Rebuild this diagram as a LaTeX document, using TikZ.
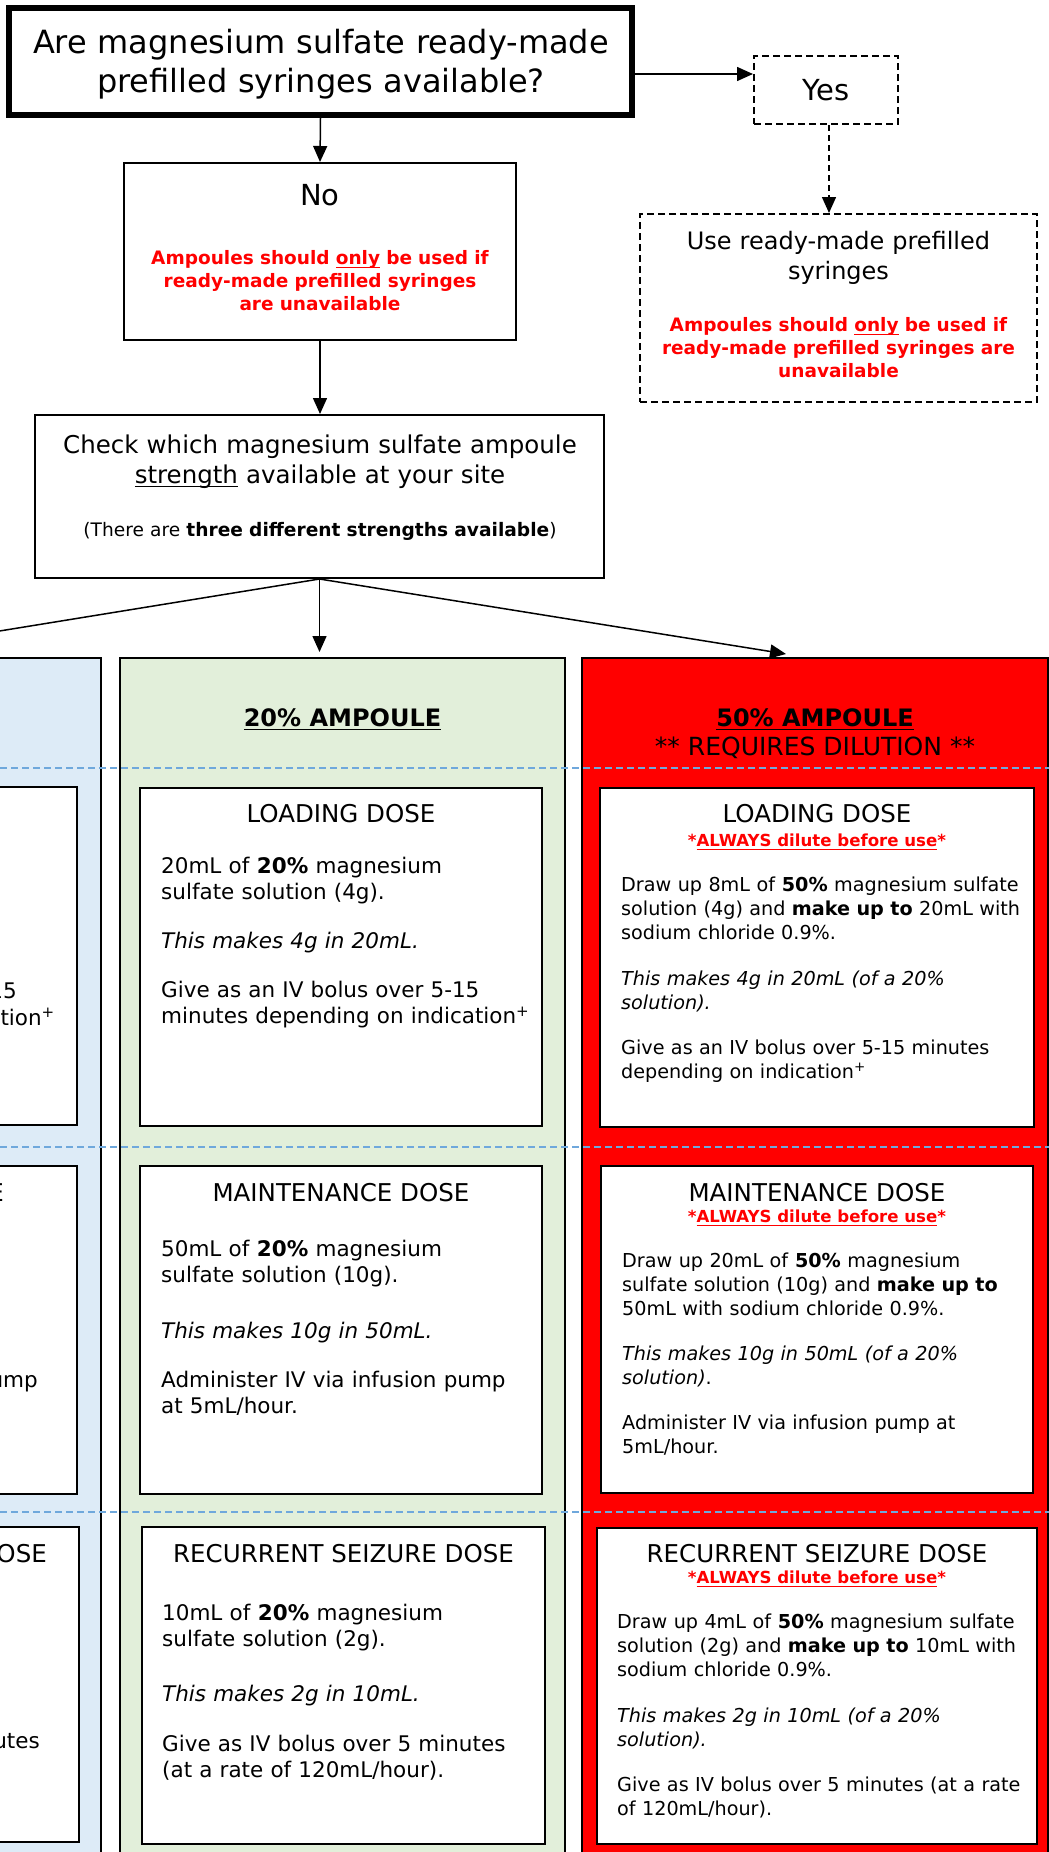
\documentclass[tikz,border=0pt]{standalone}
\usepackage{fontspec}
\setmainfont{DejaVu Sans}
\usepackage{tikz}
\usetikzlibrary{arrows.meta}

\definecolor{ampred}{HTML}{FF0000}
\definecolor{ampgreen}{HTML}{E2EFDA}
\definecolor{ampblue}{HTML}{DDEBF7}
\definecolor{rowblue}{HTML}{6FA8DC}

\newcommand{\undl}[1]{{\leavevmode\setbox0=\hbox{#1}\rlap{\rule[-4.4pt]{\wd0}{1.9pt}}\box0}}

\tikzset{
    box/.style={draw, line width=2pt, inner sep=0pt},
    dashbox/.style={box, dash pattern=on 7pt off 4pt},
    dosebox/.style={draw, fill=white, line width=2.5pt, inner sep=0pt},
    column/.style={draw, line width=2pt, inner sep=0pt, minimum width=#1, minimum height=1242pt},
    flow/.style={-{Triangle[length=16pt,width=14pt]}, line width=1.5pt},
    rowline/.style={rowblue, line width=1.5pt, dash pattern=on 7pt off 4pt},
    ttl/.style={inner sep=0pt, anchor=base, text width=600pt, align=center},
    warntxt/.style={ttl, text=ampred, font=\bfseries\fontsize{18.5}{23}\selectfont},
    headtxt/.style={inner sep=0pt, anchor=base, font=\fontsize{24.5}{29}\selectfont},
    subtxt/.style={inner sep=0pt, anchor=base, text=ampred, font=\bfseries\fontsize{16.6}{19}\selectfont},
    bodytxt/.style={inner sep=0pt, anchor=base west, text width=400pt, align=left, font=\fontsize{21.5}{26.7}\selectfont},
    redbody/.style={inner sep=0pt, anchor=base west, text width=430pt, align=left, font=\fontsize{19.2}{24.2}\selectfont},
    cuttxt/.style={inner sep=0pt, anchor=base east, font=\fontsize{21.5}{26.7}\selectfont},
}

\begin{document}
\begin{tikzpicture}[x=1pt, y=-1pt]
        \useasboundingbox (0,0) rectangle (1049,1852);
        \clip (0,0) rectangle (1049,1852);

        \node[box, line width=6pt, minimum width=623pt, minimum height=107pt] (ask) at (320.5,61.5) {};
        \node[ttl, font=\fontsize{32}{39}\selectfont] (asktext) at (321,53.5) {Are magnesium sulfate ready-made\\prefilled syringes available?};

        \node[dashbox, minimum width=144pt, minimum height=68pt, font=\fontsize{29}{34}\selectfont] (yes) at (826,90) {Yes};

        \node[box, minimum width=392pt, minimum height=177pt] (no) at (320,251.5) {};
        \node[headtxt, font=\fontsize{29}{34}\selectfont] (notitle) at (320,205) {No};
        \node[warntxt] (nonote) at (320,264) {Ampoules should \undl{only} be used if\\ready-made prefilled syringes\\are unavailable};

        \node[dashbox, minimum width=397pt, minimum height=188pt] (use) at (838.5,308) {};
        \node[ttl, font=\fontsize{24}{30}\selectfont] (usetitle) at (838.5,249) {Use ready-made prefilled\\syringes};
        \node[warntxt] (usenote) at (838.5,331) {Ampoules should \undl{only} be used if\\ready-made prefilled syringes are\\unavailable};

        \node[box, minimum width=569pt, minimum height=163pt] (check) at (319.5,496.5) {};
        \node[ttl, font=\fontsize{24.5}{30}\selectfont] (checktext) at (320,453) {Check which magnesium sulfate ampoule\\\undl{strength} available at your site};
        \node[ttl, font=\fontsize{18.6}{22}\selectfont] (checknote) at (320,536) {(There are \textbf{three different strengths available})};

        \node[column=446pt, fill=ampblue] (blue) at (-122,1279) {};
        \node[column=445pt, fill=ampgreen] (green) at (342.5,1279) {};
        \node[column=466pt, fill=ampred] (red) at (815,1279) {};

        \node[headtxt, font=\bfseries\fontsize{24}{29}\selectfont] (greenhead) at (342.5,726) {\undl{20\% AMPOULE}};
        \node[headtxt, font=\bfseries\fontsize{24}{29}\selectfont] (redhead) at (815,726) {\undl{50\% AMPOULE}};
        \node[headtxt, font=\fontsize{25}{29}\selectfont] (redsub) at (815,755) {** REQUIRES DILUTION **};

        \foreach \y in {768,1147,1512}
            \draw[rowline] (0,\y) -- (1049,\y);

        \node[dosebox, minimum width=402pt, minimum height=338pt] (bload) at (-124,956) {};
        \node[dosebox, minimum width=402pt, minimum height=328pt] (bmaint) at (-124,1330) {};
        \node[dosebox, minimum width=402pt, minimum height=315pt] (brec) at (-122,1684.5) {};

        \node[dosebox, minimum width=402pt, minimum height=338pt] (gload) at (341,957) {};
        \node[dosebox, minimum width=402pt, minimum height=328pt] (gmaint) at (341,1330) {};
        \node[dosebox, minimum width=403pt, minimum height=317pt] (grec) at (343.5,1685.5) {};

        \node[dosebox, minimum width=434pt, minimum height=339pt] (rload) at (817,957.5) {};
        \node[dosebox, minimum width=432pt, minimum height=327pt] (rmaint) at (817,1329.5) {};
        \node[dosebox, minimum width=440pt, minimum height=316pt] (rrec) at (817,1686) {};

        \node[cuttxt] (bloadcut1) at (17,998) {15};
        \node[cuttxt] (bloadcut2) at (55,1025) {ation\textsuperscript{+}};
        \node[cuttxt, font=\fontsize{24.5}{29}\selectfont] (bmainthead) at (4,1201) {E};
        \node[cuttxt] (bmaintcut) at (38,1387) {ump};
        \node[cuttxt, font=\fontsize{24.5}{29}\selectfont] (brechead) at (47,1562) {OSE};
        \node[cuttxt] (breccut) at (40,1748) {utes};

        \node[headtxt] (gloadhead) at (341,822) {LOADING DOSE};
        \node[bodytxt] (gloadtext) at (161,873) {20mL of \textbf{20\%} magnesium\\sulfate solution (4g).\\[22pt]\textit{This makes 4g in 20mL.}\\[22pt]Give as an IV bolus over 5-15\\minutes depending on indication\textsuperscript{+}};

        \node[headtxt] (gmainthead) at (341,1201) {MAINTENANCE DOSE};
        \node[bodytxt] (gmainttext) at (161,1256) {50mL of \textbf{20\%} magnesium\\sulfate solution (10g).\\[29pt]\textit{This makes 10g in 50mL.}\\[22pt]Administer IV via infusion pump\\at 5mL/hour.};

        \node[headtxt] (grechead) at (343.5,1562) {RECURRENT SEIZURE DOSE};
        \node[bodytxt] (grectext) at (162,1620) {10mL of \textbf{20\%} magnesium\\sulfate solution (2g).\\[28pt]\textit{This makes 2g in 10mL.}\\[23pt]Give as IV bolus over 5 minutes\\(at a rate of 120mL/hour).};

        \node[headtxt] (rloadhead) at (817,822) {LOADING DOSE};
        \node[subtxt] (rloadsub) at (817,846) {*\undl{ALWAYS dilute before use}*};
        \node[redbody] (rloadtext) at (621,891.5) {Draw up 8mL of \textbf{50\%} magnesium sulfate\\solution (4g) and \textbf{make up to} 20mL with\\sodium chloride 0.9\%.\\[21pt]\textit{This makes 4g in 20mL (of a 20\%}\\\textit{solution).}\\[21pt]Give as an IV bolus over 5-15 minutes\\depending on indication\textsuperscript{+}};

        \node[headtxt] (rmainthead) at (817,1201) {MAINTENANCE DOSE};
        \node[subtxt] (rmaintsub) at (817,1222) {*\undl{ALWAYS dilute before use}*};
        \node[redbody] (rmainttext) at (622,1267.5) {Draw up 20mL of \textbf{50\%} magnesium\\sulfate solution (10g) and \textbf{make up to}\\50mL with sodium chloride 0.9\%.\\[20pt]\textit{This makes 10g in 50mL (of a 20\%}\\\textit{solution)}.\\[21pt]Administer IV via infusion pump at\\5mL/hour.};

        \node[headtxt] (rrechead) at (817,1562) {RECURRENT SEIZURE DOSE};
        \node[subtxt] (rrecsub) at (817,1583) {*\undl{ALWAYS dilute before use}*};
        \node[redbody] (rrectext) at (617,1628.5) {Draw up 4mL of \textbf{50\%} magnesium sulfate\\solution (2g) and \textbf{make up to} 10mL with\\sodium chloride 0.9\%.\\[21pt]\textit{This makes 2g in 10mL (of a 20\%}\\\textit{solution).}\\[21pt]Give as IV bolus over 5 minutes (at a rate\\of 120mL/hour).};

        \coordinate (askout) at ([yshift=-12.5pt]ask.east);
        \coordinate (yesout) at ([xshift=3pt]yes.south);
        \draw[flow] (askout) -- (askout -| yes.west);
        \draw[flow, dash pattern=on 6pt off 4pt] (yesout) -- (yesout |- use.north);
        \draw[flow] (ask.south) -- (no.north);
        \draw[flow] (no.south) -- (no.south |- check.north);
        \draw[flow, shorten >=5pt] (check.south) -- (check.south |- green.north);
        \draw[flow] (check.south) -- ([xshift=205pt, yshift=3pt]red.north west);
        \draw[flow] (check.south) -- ([xshift=-244pt, yshift=3pt]blue.north east);

    \end{tikzpicture}
\end{document}
